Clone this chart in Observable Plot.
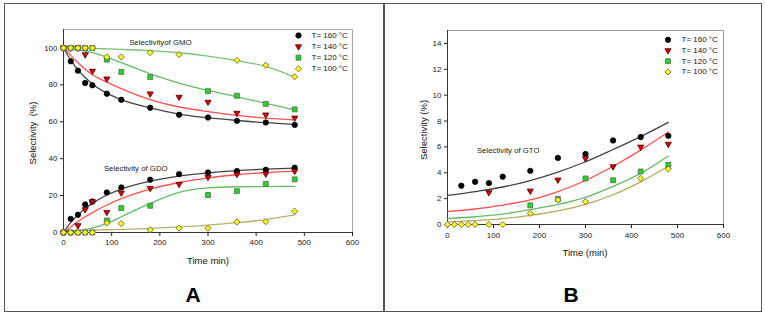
<!DOCTYPE html>
<html><head><meta charset="utf-8">
<script src="https://cdn.jsdelivr.net/npm/d3@7"></script>
<script src="https://cdn.jsdelivr.net/npm/@observablehq/plot@0.6"></script>
<style>
body{margin:0;background:#fff;}
#fig{position:relative;width:765px;height:314px;overflow:hidden;background:#fff;font-family:"Liberation Sans",Arial,sans-serif;}
.panel{position:absolute;top:0;}
.lbl{position:absolute;font-size:9.5px;color:#111;white-space:pre;transform:translate(-50%,-50%);}
.rot{transform:translate(-50%,-50%) rotate(-90deg);}
.big{font-size:21px;font-weight:bold;color:#000;}
.box{position:absolute;left:4px;top:3px;width:756px;height:307px;border:1.5px solid #555;}
.div{position:absolute;left:383px;top:3px;width:1.5px;height:309px;background:#555;}
</style></head><body><div id="fig"><div class="box"></div><div class="div"></div></div>
<script>
// ---------- data ----------
const legendLabels = ["T= 160 °C","T= 140 °C","T= 120 °C","T= 100 °C"];
const times = [0,15,30,45,60,90,120,180,240,300,360,420,480];

// Panel A: selectivity of GMO (measured)
const gmo160 = [100,92.8,87.7,81,79.8,75.2,71.9,67.6,63.8,62.3,60.5,59.6,58.3];
const gmo140 = [100,100,100,96.4,87.5,83.3,null,75.2,73.4,70.7,64.7,63.8,62.1];
const gmo120 = [100,100,100,100,100,93.7,87,84.2,null,76.6,74.1,69.7,66.7];
const gmo100 = [100,100,100,100,100,95.1,95.1,97.5,96.4,null,93.3,90.6,84.4];
// Panel A: selectivity of GDO (measured)
const gdo160 = [0,7.4,9.6,15.2,16.8,21.7,24.4,28.6,31.6,32.5,33.3,34,35.1];
const gdo140 = [0,0,3.8,12.5,16.8,11,21.5,24,26.2,30,31.6,31.8,33.3];
const gdo120 = [0,0,0,0,0,6.5,13.2,14.5,null,20.3,22.4,26.4,28.8];
const gdo100 = [0,0,0,0,0,5.2,4.8,1.4,2.3,2.3,5.7,5.9,11.5];
// Panel A: fitted curves
const gmoFit160 = [100,93.5,88,84,80.5,75.5,72,67.5,64.2,62.2,60.7,59.5,58.6];
const gmoFit140 = [100.5,96,92,88.5,85.5,81.5,78,72,68,65.5,63.5,62,61];
const gmoFit120 = [100,99.5,99,98.3,97.5,95,92,86,81,77,73.5,70,66.5];
const gmoFit100 = [100.3,100.1,100,99.9,99.8,99.5,99.2,98.6,97.4,95.6,93.1,90,84.2];
const gdoFit160 = [0,5.5,9.5,13,15.8,20.3,23.5,27.8,30.6,32.3,33.5,34.3,34.9];
const gdoFit140 = [0,3,5.9,8.5,10.8,14.9,18.3,23.5,27.1,29.6,31.3,32.5,33.3];
const gdoFit120 = [0,0.4,1,1.7,2.5,5,8.5,15.8,21.8,24.2,24.8,24.9,25];
const gdoFit100 = [0,0.8,1.1,1.2,1.3,1.5,1.7,2.2,3,4,5.3,7,9.5];

// Panel B: selectivity of GTO (measured)
const gto160 = [null,null,3.0,null,3.3,3.2,3.7,4.15,5.15,5.45,6.5,6.76,6.86];
const gto140 = [null,null,null,null,null,2.48,null,2.6,3.45,5.1,4.48,6.0,6.22];
const gto120 = [null,null,null,null,null,null,null,1.48,1.97,3.56,3.42,4.1,4.62];
const gto100 = [0,0,0,0,0,0,0,0.86,1.9,1.77,null,3.56,4.29];
const gtoFitTimes = [0,60,120,180,240,300,360,420,480];
const gtoFit160 = [2.25,2.55,2.9,3.4,4.05,4.85,5.8,6.8,7.9];
const gtoFit140 = [1.0,1.2,1.5,1.9,2.55,3.4,4.5,5.75,7.15];
const gtoFit120 = [0.45,0.6,0.8,1.15,1.55,2.1,2.95,3.95,5.3];
const gtoFit100 = [0.2,0.3,0.45,0.7,1.05,1.55,2.3,3.3,4.5];

const xTicks = [0,100,200,300,400,500,600];
const yTicksA = [0,20,40,60,80,100];
const yTicksB = [0,2,4,6,8,10,12,14];

// ---------- styles ----------
const sym = [
  {symbol:"circle", fill:"#000", stroke:"#000", r:2.7, rotate:0},
  {symbol:"triangle", fill:"#dd0000", stroke:"#4a0000", r:2.3, rotate:180},
  {symbol:"square", fill:"#18e018", stroke:"#6a5a6a", r:2.8, rotate:0},
  {symbol:"diamond2", fill:"#ffff00", stroke:"#555", r:2.8, rotate:0}
];
const font = "Liberation Sans, Arial, sans-serif";

function pts(tArr, vArr){ return tArr.map((t,i)=>({t, v:vArr[i]})).filter(d=>d.v!=null); }

function dotMarks(seriesList){
  return seriesList.map(([vals, k]) => Plot.dot(pts(times, vals), {
    x:"t", y:"v", symbol:sym[k].symbol, r:sym[k].r, fill:sym[k].fill,
    stroke:sym[k].stroke, strokeWidth:0.8, rotate:sym[k].rotate
  }));
}
function lineMarks(list, tArr){
  return list.map(([vals, color]) => Plot.line(pts(tArr, vals), {
    x:"t", y:"v", stroke:color, strokeWidth:1.3, curve:"monotone-x"
  }));
}
function legendMarks(dx, dy0, step, textDx){
  const m = [];
  legendLabels.forEach((lab,k)=>{
    m.push(Plot.dot([0], {frameAnchor:"top-left", dx, dy:dy0+k*step,
      symbol:sym[k].symbol, r:sym[k].r, fill:sym[k].fill, stroke:sym[k].stroke,
      strokeWidth:0.8, rotate:sym[k].rotate}));
    m.push(Plot.text([lab], {frameAnchor:"top-left", dx:dx+textDx, dy:dy0+k*step,
      text:d=>d, textAnchor:"start", lineAnchor:"middle", fontSize:8, fill:"#111"}));
  });
  return m;
}

const fig = document.getElementById("fig");

// ---------- Panel A ----------
const plotA = Plot.plot({
  width:380, height:314,
  marginLeft:63, marginRight:28, marginTop:29, marginBottom:82,
  x:{domain:[0,600]}, y:{domain:[0,110]},
  style:{fontFamily:font, fontSize:"8px", color:"#222", background:"transparent", overflow:"visible"},
  marks:[
    Plot.frame({stroke:"#aaa", strokeWidth:1}),
    Plot.axisX({ticks:xTicks, tickSize:4, tickPadding:3, label:null, fontSize:8}),
    Plot.axisY({ticks:yTicksA, tickSize:3, tickPadding:3, label:null, fontSize:8}),
    Plot.ruleX([0], {stroke:"#333", strokeWidth:1}),
    Plot.ruleY([0], {stroke:"#333", strokeWidth:1}),
    ...lineMarks([[gmoFit160,"#444"],[gmoFit140,"#ff5050"],[gmoFit120,"#66bb66"],[gmoFit100,"#78c278"],
                  [gdoFit160,"#444"],[gdoFit140,"#ff5050"],[gdoFit120,"#66bb66"],[gdoFit100,"#b9b065"]], times),
    ...dotMarks([[gmo160,0],[gdo160,0],[gmo140,1],[gdo140,1],[gmo120,2],[gdo120,2],[gmo100,3],[gdo100,3]]),
    Plot.text(["Selectivityof GMO"], {x:()=>201, y:()=>102.7, text:d=>d, fontSize:7.8, fill:"#222"}),
    Plot.text(["Selectivity of GDO"], {x:()=>150, y:()=>34.6, text:d=>d, fontSize:7.8, fill:"#222"}),
    ...legendMarks(235, 6, 11.1, 13)
  ]
});
plotA.classList.add("panel"); plotA.style.left="0px";
fig.appendChild(plotA);

// ---------- Panel B ----------
const plotB = Plot.plot({
  width:385, height:314,
  marginLeft:67, marginRight:42, marginTop:30, marginBottom:90,
  x:{domain:[0,600]}, y:{domain:[0,15]},
  style:{fontFamily:font, fontSize:"8px", color:"#222", background:"transparent", overflow:"visible"},
  marks:[
    Plot.frame({stroke:"#999", strokeWidth:1}),
    Plot.axisX({ticks:xTicks, tickSize:4, tickPadding:4, label:null, fontSize:8}),
    Plot.axisY({ticks:yTicksB, tickSize:3, tickPadding:3, label:null, fontSize:8}),
    Plot.ruleX([0], {stroke:"#333", strokeWidth:1}),
    Plot.ruleY([0], {stroke:"#333", strokeWidth:1}),
    ...lineMarks([[gtoFit160,"#444"],[gtoFit140,"#ff5050"],[gtoFit120,"#66bb66"],[gtoFit100,"#b9aa55"]], gtoFitTimes),
    ...dotMarks([[gto160,0],[gto140,1],[gto120,2],[gto100,3]]),
    Plot.text(["Selectivity of GTO"], {x:()=>132, y:()=>5.76, text:d=>d, fontSize:7.8, fill:"#222"}),
    ...legendMarks(220.5, 9.3, 10.7, 13.5)
  ]
});
plotB.classList.add("panel"); plotB.style.left="380px";
fig.appendChild(plotB);

// ---------- HTML labels ----------
function lbl(text, x, y, cls){
  const d = document.createElement("div");
  d.className = "lbl " + (cls||"");
  d.textContent = text;
  d.style.left = x+"px"; d.style.top = y+"px";
  fig.appendChild(d);
}
lbl("Selectivity  (%)", 32, 133, "rot");
lbl("Time min)", 208, 260);
lbl("A", 193, 295, "big");
lbl("Selectivity (%)", 423, 130, "rot");
lbl("Time (min)", 585, 252);
lbl("B", 571, 295, "big");
</script></body></html>
